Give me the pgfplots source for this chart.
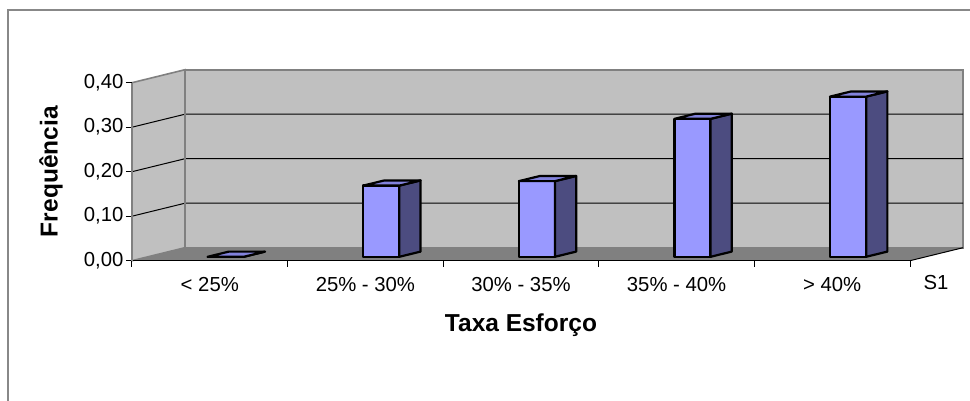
\documentclass[border=0pt]{standalone}
\usepackage{pgfplots}
\usepackage{pgfplotstable}
\pgfplotsset{compat=1.18}
\usepackage{fontspec}
\setmainfont{Liberation Sans}
\definecolor{wall}{HTML}{C0C0C0}
\definecolor{wallborder}{HTML}{808080}
\definecolor{floorc}{HTML}{808080}
\definecolor{framegray}{HTML}{888888}
\definecolor{cfront}{HTML}{9999FF}
\definecolor{cside}{HTML}{4C4C80}
\definecolor{ctop}{HTML}{8282DC}

\pgfplotstableread{
idx val
0 0.00
1 0.16
2 0.17
3 0.31
4 0.36
}\datatable

\def\DX{0.3406}
\def\DY{0.0292}
\def\fa{0.3}
\def\fb{0.7}
\def\hw{0.116}

\begin{document}
\begin{tikzpicture}[x=1pt,y=1pt]
\path[use as bounding box] (0,0) rectangle (970,401);
\draw[color=framegray, line width=1.3pt] (8,0) -- (8,391) -- (970,391);
\begin{axis}[
  at={(132pt,140.3pt)}, anchor=south west,
  scale only axis, width=778pt, height=178pt,
  xmin=0, xmax=5, ymin=0, ymax=0.4,
  clip=false, axis on top,
  axis x line*=bottom, axis y line*=left,
  x axis line style={black, line width=1pt, -},
  y axis line style={draw=wallborder, line width=1.6pt, -},
  tick align=outside,
  major tick length=6pt,
  tick style={black, line width=1pt},
  xtick={0,1,2,3,4,5},
  xticklabels={},
  extra x ticks={0.5,1.5,2.5,3.5,4.5},
  extra x tick labels={{< 25\%},{25\% - 30\%},{30\% - 35\%},{35\% - 40\%},{> 40\%}},
  extra x tick style={major tick length=0pt, xticklabel style={anchor=center, yshift=-24pt}},
  ytick={0,0.1,0.2,0.3,0.4},
  yticklabel style={xshift=1pt},
  tick label style={font=\fontsize{20.3}{24}\selectfont},
  /pgf/number format/assume math mode=true,
  /pgf/number format/fixed,
  /pgf/number format/fixed zerofill,
  /pgf/number format/precision=2,
  /pgf/number format/use comma,
  xlabel={Taxa Esforço},
  ylabel={Frequência},
  label style={font=\fontsize{24.5}{28}\selectfont\bfseries},
  xlabel style={at={(axis description cs:0.5,0)}, anchor=center, yshift=-64pt},
  ylabel style={at={(axis description cs:0,0.5)}, anchor=center, yshift=81pt},
  barfront/.style={fill=cfront, draw=black, line width=2.2pt, line join=round, forget plot},
  barside/.style={fill=cside, draw=black, line width=2.2pt, line join=round, forget plot},
  bartop/.style={fill=ctop, draw=black, line width=2.2pt, line join=round, forget plot},
]
% back wall
\addplot[fill=wall, draw=wallborder, line width=1.6pt, forget plot]
  coordinates {(0.3406,0.0292) (5.3406,0.0292) (5.3406,0.4292) (0.3406,0.4292)} -- cycle;
% side wall
\addplot[fill=wall, draw=wallborder, line width=1.6pt, forget plot]
  coordinates {(0,0) (0.3406,0.0292) (0.3406,0.4292) (0,0.4)} -- cycle;
% floor
\addplot[fill=floorc, draw=none, forget plot]
  coordinates {(0,0) (5,0) (5.3406,0.0292) (0.3406,0.0292)} -- cycle;
\addplot[black, line width=1pt, forget plot] coordinates {(5,0) (5.3406,0.0292)};
% gridlines
\addplot[black, line width=1pt, forget plot] coordinates {(0,0.1) (0.3406,0.1292) (5.3406,0.1292)};
\addplot[black, line width=1pt, forget plot] coordinates {(0,0.2) (0.3406,0.2292) (5.3406,0.2292)};
\addplot[black, line width=1pt, forget plot] coordinates {(0,0.3) (0.3406,0.3292) (5.3406,0.3292)};
\addplot[wallborder, line width=1.6pt, forget plot] coordinates {(0.3406,0.0292) (0.3406,0.4292)};
% bars
\pgfplotsinvokeforeach{0,...,4}{%
  \pgfplotstablegetelem{#1}{val}\of\datatable
  \pgfmathsetmacro\vv{\pgfplotsretval}
  \pgfmathsetmacro\xL{#1+0.5-\hw+\fa*\DX}
  \pgfmathsetmacro\xR{#1+0.5+\hw+\fa*\DX}
  \pgfmathsetmacro\xB{#1+0.5+\hw+\fb*\DX}
  \pgfmathsetmacro\xG{#1+0.5-\hw+\fb*\DX}
  \pgfmathsetmacro\yA{\fa*\DY}
  \pgfmathsetmacro\yB{\fb*\DY}
  \pgfmathsetmacro\yC{\vv+\fa*\DY}
  \pgfmathsetmacro\yD{\vv+\fb*\DY}
  \edef\dobar{%
    \noexpand\addplot[barfront] coordinates {(\xL,\yA) (\xR,\yA) (\xR,\yC) (\xL,\yC)} -- cycle;
    \noexpand\addplot[barside] coordinates {(\xR,\yA) (\xB,\yB) (\xB,\yD) (\xR,\yC)} -- cycle;
    \noexpand\addplot[bartop] coordinates {(\xL,\yC) (\xR,\yC) (\xB,\yD) (\xG,\yD)} -- cycle;
  }\dobar
}
\node[font=\fontsize{20.3}{24}\selectfont] at (axis cs:5.167,-0.048) {S1};
\end{axis}
\end{tikzpicture}
\end{document}
